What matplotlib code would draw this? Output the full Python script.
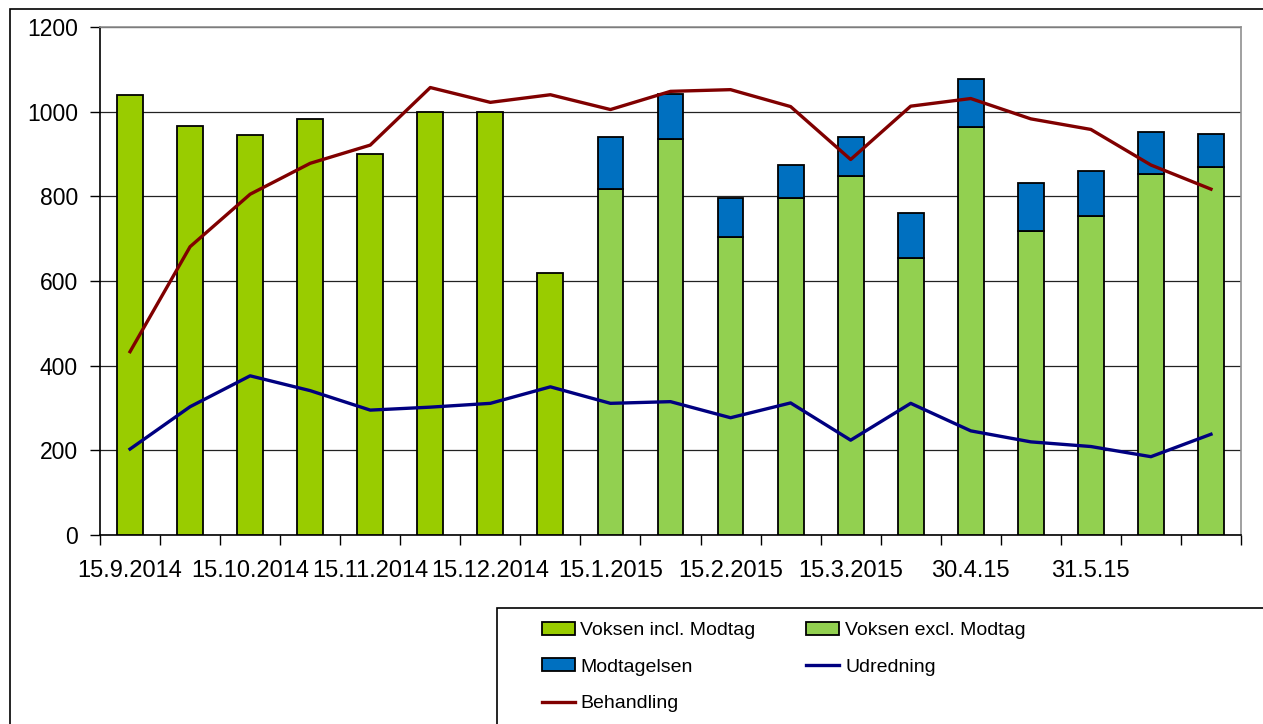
import matplotlib
matplotlib.use("Agg")
import matplotlib.pyplot as plt
from matplotlib.patches import Rectangle, Patch
from matplotlib.lines import Line2D
import numpy as np

# ---- data ----
tick_labels = ["15.9.2014", "", "15.10.2014", "", "15.11.2014", "", "15.12.2014", "",
               "15.1.2015", "", "15.2.2015", "", "15.3.2015", "", "30.4.15", "",
               "31.5.15", "", ""]
voksen_incl = [1040, 965, 945, 982, 900, 1000, 1000, 620,
               None, None, None, None, None, None, None, None, None, None, None]
voksen_excl = [None] * 8 + [817, 935, 705, 795, 848, 654, 964, 719, 753, 852, 869]
modtagelsen = [None] * 8 + [123, 107, 90, 79, 92, 107, 113, 112, 108, 99, 78]
udredning = [203, 303, 376, 341, 295, 302, 311, 350, 311, 315, 277, 312, 224, 311,
             246, 220, 209, 185, 238]
behandling = [433, 681, 805, 878, 921, 1057, 1022, 1040, 1005, 1048, 1052, 1012, 887,
              1013, 1031, 983, 958, 874, 817]

plt.rcParams['font.family'] = ['Liberation Sans', 'DejaVu Sans']

W, H = 1263, 724
fig = plt.figure(figsize=(W / 100, H / 100), dpi=100)
ax = fig.add_axes([100 / W, 1 - 535 / H, (1241 - 100) / W, (535 - 27) / H])

n = len(tick_labels)
x = np.arange(n)
bw = 0.43

def arr(v):
    return np.array([np.nan if a is None else a for a in v], dtype=float)

vi = arr(voksen_incl)
ve = arr(voksen_excl)
mo = arr(modtagelsen)

ax.bar(x, vi, bw, color='#99CC00', edgecolor='black', linewidth=1.3, zorder=3)
ax.bar(x, ve, bw, color='#92D050', edgecolor='black', linewidth=1.3, zorder=3)
ax.bar(x, mo, bw, bottom=ve, color='#0070C0', edgecolor='black', linewidth=1.3, zorder=3)
ax.plot(x, udredning, color='#000080', linewidth=2.4, zorder=4)
ax.plot(x, behandling, color='#800000', linewidth=2.4, zorder=4)

ax.set_xlim(-0.5, n - 0.5)
ax.set_ylim(0, 1200)
ax.set_yticks(np.arange(0, 1201, 200))
ax.yaxis.grid(True, color='#222222', linewidth=0.9, zorder=0)
ax.set_axisbelow(True)

ax.set_xticks(x)
ax.set_xticklabels(tick_labels)
ax.set_xticks(np.arange(-0.5, n, 1.0), minor=True)
ax.tick_params(axis='x', which='major', length=0, pad=18, labelsize=17)
ax.tick_params(axis='x', which='minor', length=7, width=1, color='black', direction='out')
ax.tick_params(axis='y', length=7, width=1, pad=9, labelsize=16.5, direction='out')

for s in ['top', 'right']:
    ax.spines[s].set_color('#909090')
    ax.spines[s].set_linewidth(1.2)
for s in ['left', 'bottom']:
    ax.spines[s].set_color('black')
    ax.spines[s].set_linewidth(1.2)

# outer chart area border (cropped screenshot)
fig.patches.append(Rectangle((10 / W, -0.1), 1.2, 1 - 9 / H + 0.1, transform=fig.transFigure,
                             fill=False, edgecolor='black', linewidth=1.2))
# legend box
fig.patches.append(Rectangle((497 / W, -0.1), 1.0, 1 - 608 / H + 0.1, transform=fig.transFigure,
                             fill=False, edgecolor='black', linewidth=1.2))

handles = [
    Patch(facecolor='#99CC00', edgecolor='black', linewidth=1.3),
    Patch(facecolor='#0070C0', edgecolor='black', linewidth=1.3),
    Line2D([0], [0], color='#800000', linewidth=2.4),
    Patch(facecolor='#92D050', edgecolor='black', linewidth=1.3),
    Line2D([0], [0], color='#000080', linewidth=2.4),
]
labels = ["Voksen incl. Modtag", "Modtagelsen", "Behandling", "Voksen excl. Modtag", "Udredning"]
leg = fig.legend(handles, labels, ncol=2, loc='upper left',
                 bbox_to_anchor=(528 / W, 1 - 608 / H), frameon=False,
                 prop={'size': 14},
                 handlelength=1.7, handleheight=0.65, handletextpad=0.3,
                 columnspacing=2.6, labelspacing=1.0, borderpad=0.2)

fig.savefig('out.png', dpi=100)
